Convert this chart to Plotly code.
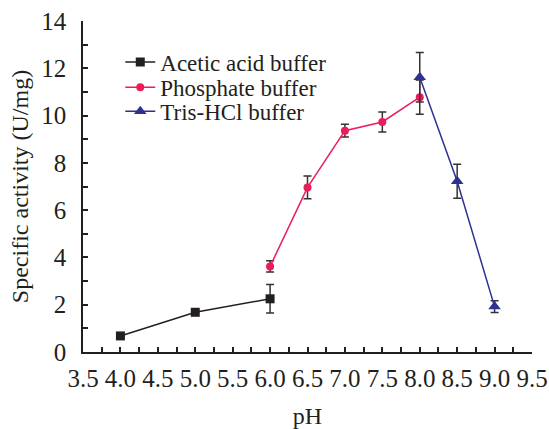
import plotly.graph_objects as go

ph_acetic = [4.0, 5.0, 6.0]
act_acetic = [0.68, 1.68, 2.25]
err_acetic = [0.0, 0.0, 0.6]

ph_phos = [6.0, 6.5, 7.0, 7.5, 8.0]
act_phos = [3.62, 6.96, 9.36, 9.73, 10.78]
err_phos = [0.24, 0.48, 0.27, 0.42, 0.72]

ph_tris = [8.0, 8.5, 9.0]
act_tris = [11.62, 7.22, 1.92]
err_tris = [1.05, 0.72, 0.25]

font_family = "Liberation Serif"
err_color = "#333333"

fig = go.Figure()
fig.add_trace(go.Scatter(
    x=ph_acetic, y=act_acetic, mode="lines+markers", name="Acetic acid buffer",
    line=dict(color="#231f20", width=1.5),
    marker=dict(symbol="square", size=9, color="#231f20"),
    error_y=dict(type="data", array=err_acetic, color=err_color, thickness=1.5, width=4),
    legend="legend",
))
fig.add_trace(go.Scatter(
    x=ph_phos, y=act_phos, mode="lines+markers", name="Phosphate buffer",
    line=dict(color="#ec1c5a", width=1.5),
    marker=dict(symbol="circle", size=8, color="#ec1c5a"),
    error_y=dict(type="data", array=err_phos, color=err_color, thickness=1.5, width=4),
    legend="legend2",
))
fig.add_trace(go.Scatter(
    x=ph_tris, y=act_tris, mode="lines+markers", name="Tris-HCl buffer",
    line=dict(color="#2e3192", width=1.5),
    marker=dict(symbol="triangle-up", size=11, color="#2e3192"),
    error_y=dict(type="data", array=err_tris, color=err_color, thickness=1.5, width=4),
    legend="legend3",
))

def leg(y):
    return dict(x=0.083, y=y, xanchor="left", yanchor="middle",
                bgcolor="rgba(0,0,0,0)", font=dict(family=font_family, size=23),
                itemwidth=30)

fig.update_layout(
    width=549, height=429,
    margin=dict(l=83, r=17, t=21, b=77),
    paper_bgcolor="white", plot_bgcolor="white",
    font=dict(family=font_family, size=24, color="#231f20"),
    showlegend=True,
    legend=leg(0.876),
    legend2=leg(0.800),
    legend3=leg(0.727),
    xaxis=dict(
        range=[3.5, 9.5], dtick=0.5, tick0=3.5, tickformat=".1f",
        automargin=False,
        showgrid=False, zeroline=False, showline=True, linecolor="#231f20", linewidth=1.5,
        ticks="inside", ticklen=5, tickcolor="#231f20", tickwidth=1.5,
        minor=dict(dtick=0.25, ticks="inside", ticklen=5, tickcolor="#231f20", tickwidth=1.5, showgrid=False),
        ticklabelstandoff=3,
        title=dict(text="pH", standoff=38, font=dict(family=font_family, size=24)),
        tickfont=dict(family=font_family, size=25),
    ),
    yaxis=dict(
        range=[0, 14], dtick=2, tick0=0,
        automargin=False,
        showgrid=False, zeroline=False, showline=True, linecolor="#231f20", linewidth=1.5,
        ticks="inside", ticklen=5, tickcolor="#231f20", tickwidth=1.5,
        minor=dict(dtick=1, ticks="inside", ticklen=5, tickcolor="#231f20", tickwidth=1.5, showgrid=False),
        ticklabelstandoff=10,
        title=dict(text="Specific activity (U/mg)", standoff=6, font=dict(family=font_family, size=24)),
        tickfont=dict(family=font_family, size=25),
    ),
)

fig.write_html("out.html")
